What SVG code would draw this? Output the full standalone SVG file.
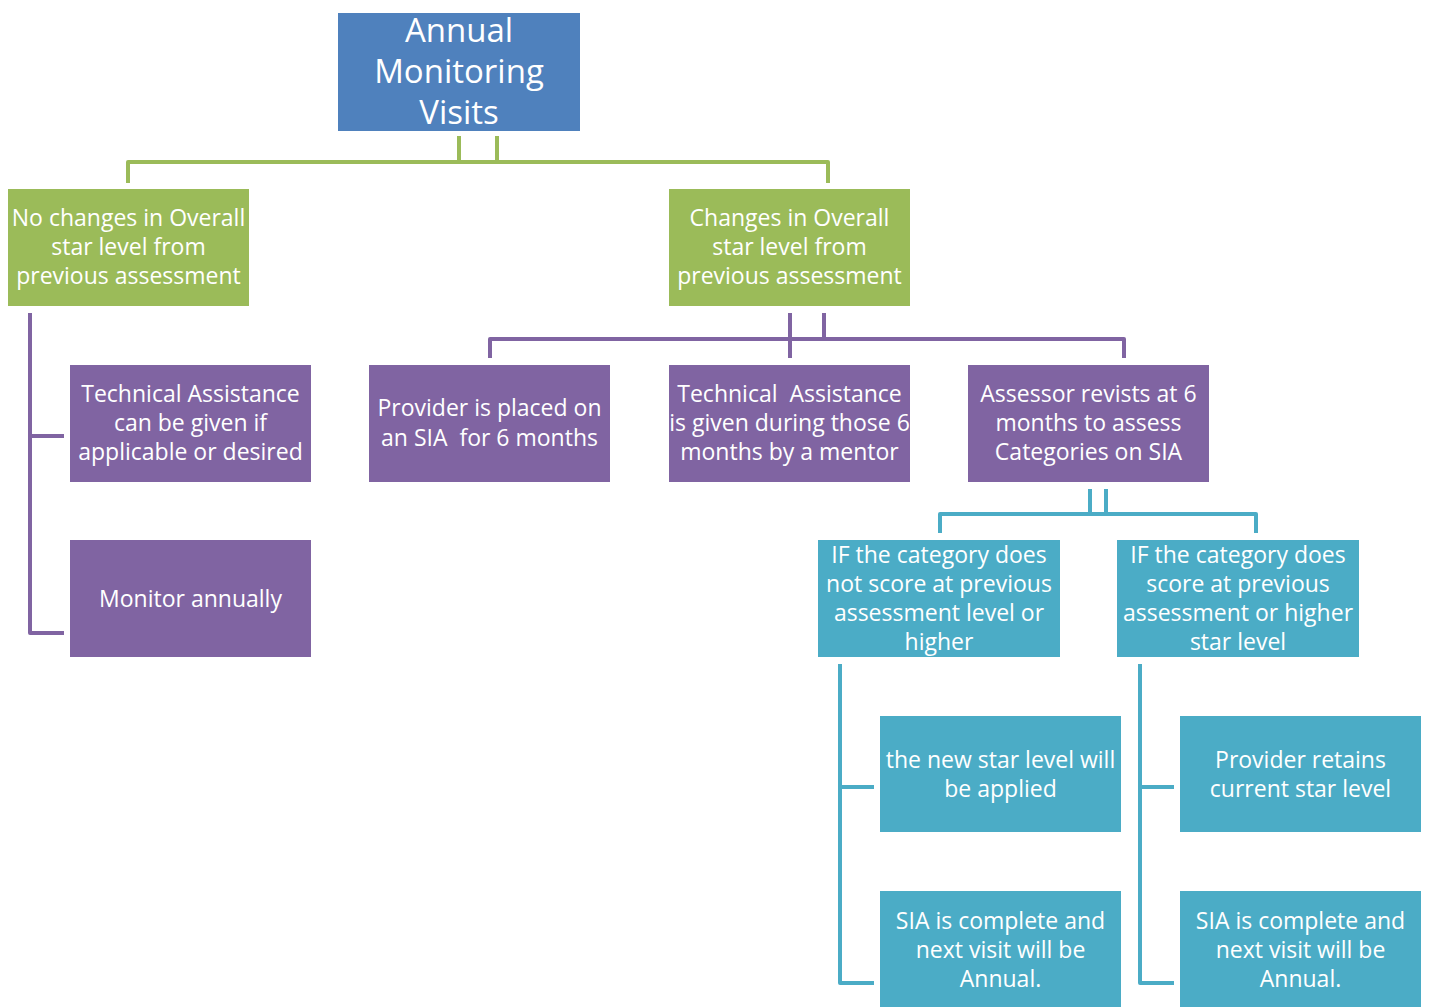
<svg xmlns="http://www.w3.org/2000/svg" width="1429" height="1007" viewBox="0 0 1429 1007">
<style>
.b{stroke:none}
.blue{fill:#4F81BD}
.green{fill:#9BBB59}
.purple{fill:#8064A2}
.teal{fill:#4BACC6}
text{font-family:"Open Sans","Liberation Sans",sans-serif;font-size:23px;fill:#ffffff;text-anchor:middle}
.t{font-size:33px}
.c{fill:none;stroke-width:4;stroke-linejoin:round}
.cg{stroke:#9BBB59}
.cp{stroke:#8064A2}
.ct{stroke:#4BACC6}
</style>
<rect width="1429" height="1007" fill="#ffffff"/>
<g id="connectors">
<path class="c cg" d="M459,136 V162 M497,136 V162 M128,183 V162 H828 V183"/>
<path class="c cp" d="M30,313 V633 H64 M30,436 H64"/>
<path class="c cp" d="M790,313 V358 M824,313 V339 M490,358 V339 H1124 V358"/>
<path class="c ct" d="M1090,489 V514 M1106,489 V514 M940,533 V514 H1256 V533"/>
<path class="c ct" d="M840,664 V983 H874 M840,787 H874"/>
<path class="c ct" d="M1140,664 V983 H1174 M1140,787 H1174"/>
</g>
<g id="n-annual"><rect class="b blue" x="338" y="13" width="242" height="118"/><text class="t" x="459" y="42">Annual</text><text class="t" x="459" y="83">Monitoring</text><text class="t" x="459" y="124">Visits</text></g>
<g id="n-nochanges"><rect class="b green" x="8" y="189" width="241" height="117"/><text x="128.5" y="226">No changes in Overall</text><text x="128.5" y="255">star level from</text><text x="128.5" y="284">previous assessment</text></g>
<g id="n-changes"><rect class="b green" x="669" y="189" width="241" height="117"/><text x="789.5" y="226">Changes in Overall</text><text x="789.5" y="255">star level from</text><text x="789.5" y="284">previous assessment</text></g>
<g id="n-ta-left"><rect class="b purple" x="70" y="365" width="241" height="117"/><text x="190.5" y="402">Technical Assistance</text><text x="190.5" y="431">can be given if</text><text x="190.5" y="460">applicable or desired</text></g>
<g id="n-monitor"><rect class="b purple" x="70" y="540" width="241" height="117"/><text x="190.5" y="607">Monitor annually</text></g>
<g id="n-provider-sia"><rect class="b purple" x="369" y="365" width="241" height="117"/><text x="489.5" y="416" xml:space="preserve">Provider is placed on</text><text x="489.5" y="446" xml:space="preserve">an SIA  for 6 months</text></g>
<g id="n-ta-mid"><rect class="b purple" x="669" y="365" width="241" height="117"/><text x="789.5" y="402" xml:space="preserve">Technical  Assistance</text><text x="789.5" y="431">is given during those 6</text><text x="789.5" y="460">months by a mentor</text></g>
<g id="n-assessor"><rect class="b purple" x="968" y="365" width="241" height="117"/><text x="1088.5" y="402">Assessor revists at 6</text><text x="1088.5" y="431">months to assess</text><text x="1088.5" y="460">Categories on SIA</text></g>
<g id="n-if-not"><rect class="b teal" x="818" y="540" width="242" height="117"/><text x="939" y="563">IF the category does</text><text x="939" y="592">not score at previous</text><text x="939" y="621">assessment level or</text><text x="939" y="650">higher</text></g>
<g id="n-if-score"><rect class="b teal" x="1117" y="540" width="242" height="117"/><text x="1238" y="563">IF the category does</text><text x="1238" y="592">score at previous</text><text x="1238" y="621">assessment or higher</text><text x="1238" y="650">star level</text></g>
<g id="n-new-star"><rect class="b teal" x="880" y="716" width="241" height="116"/><text x="1000.5" y="768">the new star level will</text><text x="1000.5" y="797">be applied</text></g>
<g id="n-sia-left"><rect class="b teal" x="880" y="891" width="241" height="116"/><text x="1000.5" y="929">SIA is complete and</text><text x="1000.5" y="958">next visit will be</text><text x="1000.5" y="987">Annual.</text></g>
<g id="n-retains"><rect class="b teal" x="1180" y="716" width="241" height="116"/><text x="1300.5" y="768">Provider retains</text><text x="1300.5" y="797">current star level</text></g>
<g id="n-sia-right"><rect class="b teal" x="1180" y="891" width="241" height="116"/><text x="1300.5" y="929">SIA is complete and</text><text x="1300.5" y="958">next visit will be</text><text x="1300.5" y="987">Annual.</text></g>
</svg>
